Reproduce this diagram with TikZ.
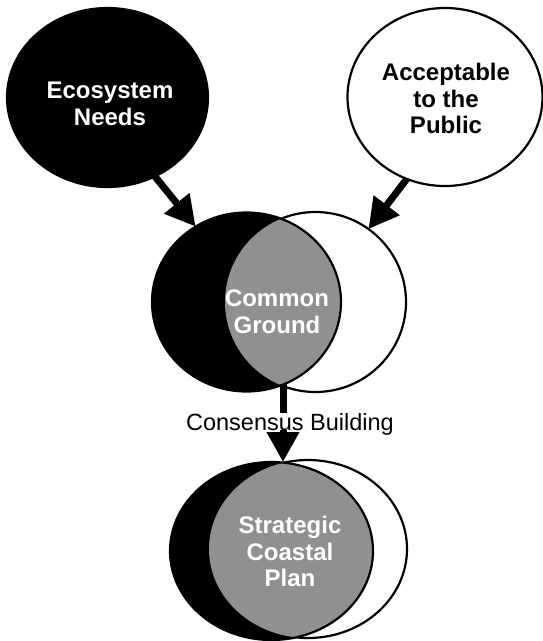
\documentclass[tikz,border=0pt]{standalone}
\usepackage{fontspec}
\setmainfont{Liberation Sans}
\usetikzlibrary{shapes.geometric,arrows.meta}
\definecolor{lensgray}{RGB}{144,144,144}
\begin{document}
\begin{tikzpicture}[x=1pt,y=-1pt,
  oval/.style={ellipse, inner sep=0pt, outer sep=0pt, line width=2.2pt, draw=black},
  blk/.style={oval, fill=black},
  wht/.style={oval, fill=white},
  bigarrow/.style={line width=7pt, -{Triangle[length=30pt,width=31pt]}},
  tx/.style={font=\bfseries\fontsize{24}{26.8}\selectfont, align=center, inner sep=0pt},
  lbl/.style={font=\fontsize{23.5}{28}\selectfont, fill=white, inner sep=0pt, text depth=0pt}]
\useasboundingbox (0,0) rectangle (543,641);

% top ellipses
\node[blk, minimum width=201pt, minimum height=179pt] (eco) at (107.5,97.5) {};
\node[wht, minimum width=195pt, minimum height=178pt] (acc) at (445,97) {};

% middle pair
\node[wht, minimum width=181pt, minimum height=180pt] (cgW) at (315.5,302) {};
\node[blk, minimum width=189pt, minimum height=179pt,
  path picture={\fill[lensgray] (cgW.center) ellipse [x radius=90.5pt, y radius=90pt];}] (cgB) at (246.5,302) {};

% bottom pair
\node[wht, minimum width=198pt, minimum height=178pt] (spW) at (308,549) {};
\node[blk, minimum width=203pt, minimum height=178pt,
  path picture={\fill[lensgray] (spW.center) ellipse [x radius=99pt, y radius=89pt];}] (spB) at (271.5,551) {};

% texts
\node[tx, text=white] (ecoT) at (110,103.5) {Ecosystem\\Needs};
\node[tx] (accT) at (446,98.5) {Acceptable\\to the\\Public};
\node[tx, text=white] (cgT) at (277,311.5) {Common\\Ground};
\node[tx, text=white] (spT) at (290,551.5) {Strategic\\Coastal\\Plan};

% arrows
\draw[bigarrow] (eco.-59) -- (cgB.124);
\draw[bigarrow] (acc.245) -- (cgW.54);
\coordinate (lensBot) at (283,384);
\draw[bigarrow] (lensBot) -- (lensBot |- spB.north);
\node[lbl] (cb) at (290,421.5) {Consensus Building};
\end{tikzpicture}
\end{document}
